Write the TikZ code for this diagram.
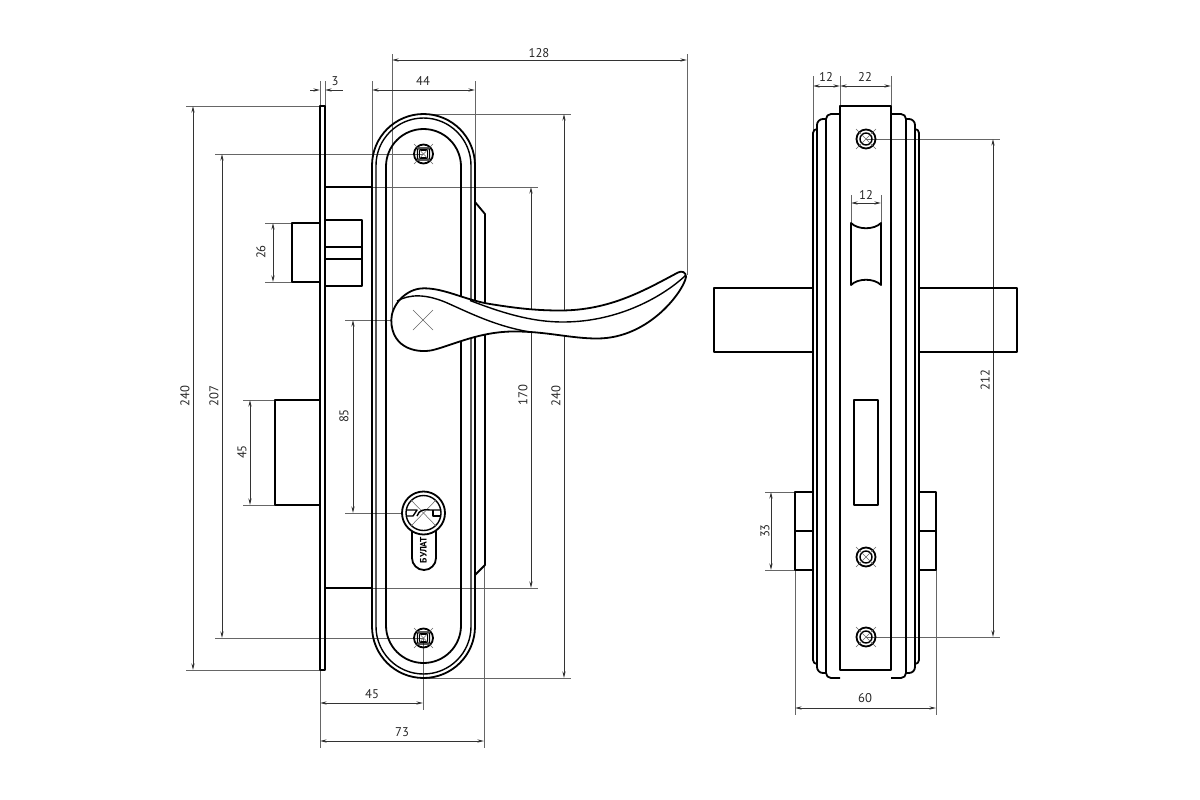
\documentclass[tikz,border=0pt]{standalone}
\usepackage{fontspec}
\setmainfont{PT Sans}
\usetikzlibrary{arrows.meta}
\tikzset{
	part/.style={line width=1.35pt,black,line join=round},
	partthin/.style={line width=1.05pt,black,line join=round},
	extline/.style={line width=0.5pt,black!60},
	dimline/.style={line width=0.55pt,black!80,{Stealth[length=5pt,width=2.4pt]}-{Stealth[length=5pt,width=2.4pt]}},
	dimtext/.style={font=\fontsize{9.5}{10}\selectfont,inner sep=1pt,text=black!85},
	crossline/.style={line width=0.4pt,black!60}
}
\begin{document}
\begin{tikzpicture}[x=0.75pt,y=-0.75pt]
	\useasboundingbox (0,0) rectangle (1200,800);

	% extension lines, left view
	\draw[extline] (186,106) -- (320,106);
	\draw[extline] (186,670) -- (320,670);
	\draw[extline] (215,154) -- (423,154);
	\draw[extline] (215,638) -- (423,638);
	\draw[extline] (265,223) -- (292,223);
	\draw[extline] (265,282) -- (292,282);
	\draw[extline] (243,400) -- (275,400);
	\draw[extline] (243,505) -- (275,505);
	\draw[extline] (345,320) -- (423,320);
	\draw[extline] (345,513) -- (423,513);
	\draw[extline] (325,187) -- (538,187);
	\draw[extline] (325,588) -- (538,588);
	\draw[extline] (423,114) -- (571,114);
	\draw[extline] (423,678) -- (571,678);
	\draw[extline] (392,54) -- (392,320);
	\draw[extline] (687,54) -- (687,275);
	\draw[extline] (372,81) -- (372,166);
	\draw[extline] (475,81) -- (475,166);
	\draw[extline] (320,81) -- (320,106);
	\draw[extline] (325,81) -- (325,106);
	\draw[extline] (320,670) -- (320,748);
	\draw[extline] (423,638) -- (423,710);
	\draw[extline] (484,565) -- (484,748);

	% dimension lines, left view
	\draw[dimline] (193,106) -- (193,670);
	\draw[dimline] (222,154) -- (222,638);
	\draw[dimline] (273,223) -- (273,282);
	\draw[dimline] (250,400) -- (250,505);
	\draw[dimline] (353,320) -- (353,513);
	\draw[dimline] (531,187) -- (531,588);
	\draw[dimline] (564,114) -- (564,678);
	\draw[dimline] (392,60) -- (687,60);
	\draw[dimline] (372,90) -- (475,90);
	\draw[dimline,{Stealth[length=5pt,width=2.4pt]}-] (320,90) -- (310,90);
	\draw[dimline,{Stealth[length=5pt,width=2.4pt]}-] (325,90) -- (343,90);
	\draw[dimline] (320,703) -- (423,703);
	\draw[dimline] (320,741) -- (484,741);

	\node[dimtext,rotate=90] (d240a) at (185,396) {240};
	\node[dimtext,rotate=90] (d207) at (214,396) {207};
	\node[dimtext,rotate=90] (d26) at (261,252) {26};
	\node[dimtext,rotate=90] (d45a) at (242,452) {45};
	\node[dimtext,rotate=90] (d85) at (344,416) {85};
	\node[dimtext,rotate=90] (d170) at (523,395) {170};
	\node[dimtext,rotate=90] (d240b) at (556,396) {240};
	\node[dimtext] (d128) at (539,53) {128};
	\node[dimtext] (d44) at (423,81) {44};
	\node[dimtext] (d3) at (335,81) {3};
	\node[dimtext] (d45b) at (372,694) {45};
	\node[dimtext] (d73) at (402,732) {73};

	% lock case and bolts
	\draw[part] (320,106) rectangle (325,670);
	\draw[part] (320,223) -- (292,223) -- (292,282) -- (320,282);
	\draw[part] (325,220) -- (362,220) -- (362,286) -- (325,286);
	\draw[part] (325,247) -- (362,247);
	\draw[part] (325,259) -- (362,259);
	\draw[part] (325,187) -- (372,187);
	\draw[part] (325,588) -- (372,588);
	\draw[part] (320,400) -- (275,400) -- (275,505) -- (320,505);

	% face plate
	\draw[part] (372,165.5) arc[start angle=180,end angle=360,radius=51.5] -- (475,626.5)
		arc[start angle=0,end angle=180,radius=51.5] -- cycle;
	\draw[partthin] (376,165.5) arc[start angle=180,end angle=360,radius=47.5] -- (471,626.5)
		arc[start angle=0,end angle=180,radius=47.5] -- cycle;
	\draw[part] (386,166.5) arc[start angle=180,end angle=360,radius=37.5] -- (461,625.5)
		arc[start angle=0,end angle=180,radius=37.5] -- cycle;
	\draw[part] (475,202) -- (485,214) -- (485,565) -- (475,575);

	% screws on the face plate
	\foreach \sy in {154,638}{
		\draw[part] (423.5,\sy) circle[radius=9.5];
		\draw[partthin,rounded corners=1pt] (417.5,\sy-6) rectangle (429.5,\sy+6);
		\draw[partthin] (419.5,\sy-4) rectangle (427.5,\sy+4);
		\draw[crossline] (414,\sy-10) -- (433,\sy+10);
		\draw[crossline] (414,\sy+10) -- (433,\sy-10);
	}

	% cylinder hole
	\draw[part] (412,530) -- (412,558) arc[start angle=180,end angle=0,radius=12] -- (436,530);
	\draw[part,fill=white] (423.5,513) circle[radius=21.5];
	\draw[partthin] (423.5,513) circle[radius=17.5];
	\draw[crossline] (411,500) -- (436,526);
	\draw[crossline] (411,526) -- (436,500);
	\draw[partthin] (406,510) -- (417,510) -- (413,516) -- (406,516);
	\draw[partthin] (417,516) .. controls (419,510) and (424,509) .. (430,510) -- (441,510);
	\draw[partthin] (433,510) -- (433,516) -- (441,516);
	\node[rotate=90,font=\bfseries\fontsize{7}{8}\selectfont,inner sep=0pt] (brand) at (423.5,550) {БУЛАТ};

	% handle
	\draw[part,fill=white] (391.3,320) .. controls (391.3,306) and (405,288.3) .. (424,288.3)
		.. controls (445,288.3) and (465,300) .. (490,304)
		.. controls (515,308) and (535,310.5) .. (560,310.5)
		.. controls (610,310.5) and (645,290) .. (678,272.5)
		.. controls (682,270.5) and (686,272) .. (686,277)
		.. controls (684,290) and (650,338.5) .. (597,338.5)
		.. controls (570,338.5) and (545,331) .. (512,331.5)
		.. controls (480,332) and (455,344) .. (435,349.5)
		.. controls (420,354) and (391.3,350) .. (391.3,320) -- cycle;
	\draw[partthin] (397,301) .. controls (410,294) and (425,294) .. (445,302)
		.. controls (470,313) and (495,326) .. (530,332);
	\draw[partthin] (470,300.5) .. controls (500,312) and (530,322) .. (563,322)
		.. controls (620,322) and (665,295) .. (686,275);
	\draw[crossline] (413,310) -- (433,330);
	\draw[crossline] (413,330) -- (433,310);

	% extension lines, right view
	\draw[extline] (813,76) -- (813,133);
	\draw[extline] (840,76) -- (840,106);
	\draw[extline] (891,76) -- (891,106);
	\draw[extline] (866,139) -- (1000,139);
	\draw[extline] (866,637) -- (1000,637);
	\draw[extline] (851,195) -- (851,223);
	\draw[extline] (881,195) -- (881,223);
	\draw[extline] (765,492) -- (795,492);
	\draw[extline] (765,570) -- (795,570);
	\draw[extline] (795,570) -- (795,715);
	\draw[extline] (936,570) -- (936,715);

	% dimension lines, right view
	\draw[dimline] (813,86) -- (840,86);
	\draw[dimline] (840,86) -- (891,86);
	\draw[dimline] (851,203) -- (881,203);
	\draw[dimline] (771,492) -- (771,570);
	\draw[dimline] (993,139) -- (993,637);
	\draw[dimline] (795,708) -- (936,708);

	\node[dimtext] (d12a) at (826,77) {12};
	\node[dimtext] (d22) at (865,77) {22};
	\node[dimtext] (d12b) at (866,195) {12};
	\node[dimtext,rotate=90] (d33) at (765,531) {33};
	\node[dimtext,rotate=90] (d212) at (985,380) {212};
	\node[dimtext] (d60) at (865,698) {60};

	% spindle and bolts, right view
	\draw[part] (813,288) -- (714,288) -- (714,352) -- (813,352);
	\draw[part] (919,288) -- (1017,288) -- (1017,352) -- (919,352);
	\draw[part] (813,492) -- (795,492) -- (795,570) -- (813,570);
	\draw[part] (795,531) -- (813,531);
	\draw[part] (919,492) -- (936,492) -- (936,570) -- (919,570);
	\draw[part] (919,531) -- (936,531);

	% stepped strips, right view
	\draw[part] (840,114) -- (831,114) arc[start angle=270,end angle=180,radius=5] -- (826,673)
		arc[start angle=180,end angle=90,radius=5] -- (840,678);
	\draw[part] (826,119) -- (823,119) arc[start angle=270,end angle=180,radius=6] -- (817,667)
		arc[start angle=180,end angle=90,radius=6] -- (826,673);
	\draw[part] (817,129) arc[start angle=270,end angle=180,radius=4] -- (813,660)
		arc[start angle=180,end angle=90,radius=4];
	\draw[part] (891,114) -- (901,114) arc[start angle=270,end angle=360,radius=5] -- (906,673)
		arc[start angle=0,end angle=90,radius=5] -- (891,678);
	\draw[part] (906,119) -- (909,119) arc[start angle=270,end angle=360,radius=6] -- (915,667)
		arc[start angle=0,end angle=90,radius=6] -- (906,673);
	\draw[part] (915,129) arc[start angle=270,end angle=360,radius=4] -- (919,660)
		arc[start angle=0,end angle=90,radius=4];

	% central plate and holes
	\draw[part] (840,106) rectangle (891,670);
	\draw[part] (851,223) .. controls (858,230) and (874,230) .. (881,223) -- (881,285)
		.. controls (874,278) and (858,278) .. (851,285) -- cycle;
	\draw[part] (854,400) rectangle (878,505);
	\foreach \sy in {139,557,637}{
		\draw[part] (866,\sy) circle[radius=9.5];
		\draw[partthin] (866,\sy) circle[radius=6];
		\draw[crossline] (856,\sy-10) -- (876,\sy+10);
		\draw[crossline] (856,\sy+10) -- (876,\sy-10);
	}
\end{tikzpicture}
\end{document}
